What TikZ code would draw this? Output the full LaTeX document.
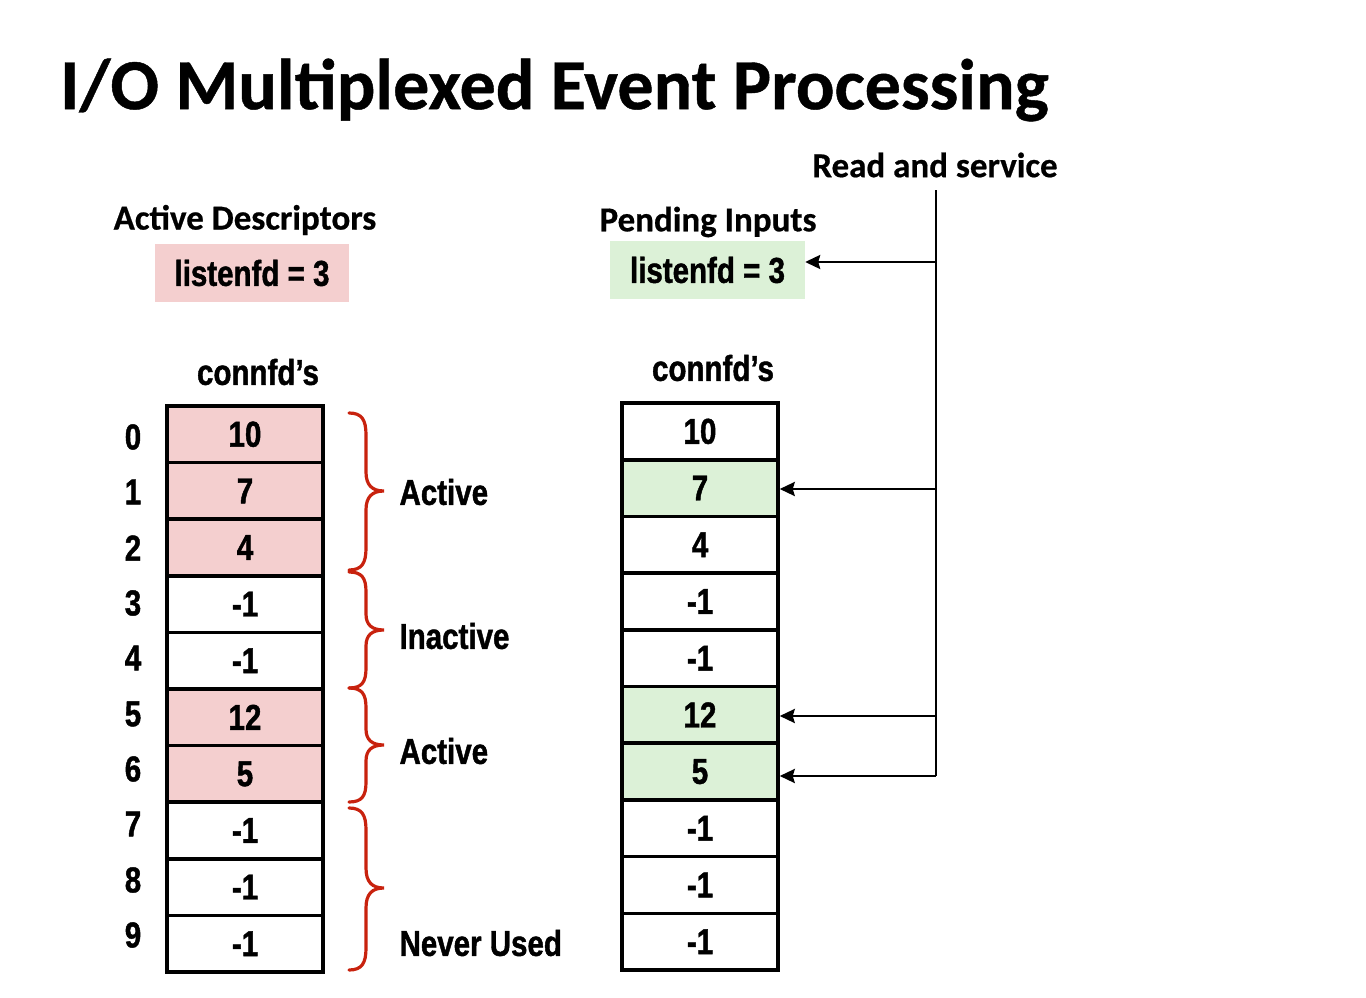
\documentclass[tikz,border=0pt]{standalone}
\usepackage{fontspec}
\usetikzlibrary{arrows.meta}
\newfontfamily\calf{Carlito}[BoldFeatures={FakeBold=0.6}]
\newfontfamily\narf{Liberation Sans}[FakeStretch=0.82, BoldFont={Liberation Sans Bold}, BoldFeatures={FakeStretch=0.82, FakeBold=1.2}]
\definecolor{pinkc}{HTML}{F4CFCF}
\definecolor{greenc}{HTML}{DCF1D7}
\definecolor{bracec}{HTML}{C8220E}
\begin{document}
\begin{tikzpicture}[x=1pt,y=-1pt,
  nf/.style={font=\narf\bfseries\fontsize{36}{40}\selectfont},
  cell/.style={nf, draw, line width=3.5pt, minimum width=156pt, minimum height=56.6pt, inner sep=0pt},
  pcell/.style={cell, fill=pinkc},
  gcell/.style={cell, fill=greenc},
  idx/.style={nf},
  lab/.style={nf, anchor=west},
  head/.style={font=\calf\bfseries\fontsize{35}{40}\selectfont},
  conn/.style={line width=2.4pt, -{Stealth[length=15pt,width=14pt,inset=2pt]}},
  bus/.style={line width=2.4pt},
  brc/.style={draw=bracec, line width=3.2pt, line cap=round}]
\useasboundingbox (0,0) rectangle (1366,998);

% title
\node[font=\calf\bfseries\fontsize{72}{80}\selectfont, anchor=west, inner sep=0pt] (title) at (60,90) {I/O Multiplexed Event Processing};

% left side headings
\node[head] (ad) at (245,220) {Active Descriptors};
\node[fill=pinkc, minimum width=194pt, minimum height=58pt, inner sep=0pt, nf] (al) at (252,273) {listenfd = 3};
\node[nf] (lc) at (258,372) {connfd’s};

% right side headings
\node[head] (pi) at (708,222) {Pending Inputs};
\node[fill=greenc, minimum width=195pt, minimum height=58pt, inner sep=0pt, nf] (pl) at (707.5,270) {listenfd = 3};
\node[nf] (rc) at (713,368) {connfd’s};
\node[head] (rs) at (935,165) {Read and service};

% left array
\node[pcell] (l0) at (245,434.3) {10};
\node[pcell] (l1) at (245,490.9) {7};
\node[pcell] (l2) at (245,547.5) {4};
\node[cell]  (l3) at (245,604.1) {-1};
\node[cell]  (l4) at (245,660.7) {-1};
\node[pcell] (l5) at (245,717.3) {12};
\node[pcell] (l6) at (245,773.9) {5};
\node[cell]  (l7) at (245,830.5) {-1};
\node[cell]  (l8) at (245,887.1) {-1};
\node[cell]  (l9) at (245,943.7) {-1};

% indices
\node[idx] (i0) at (133,437) {0};
\node[idx] (i1) at (133,492) {1};
\node[idx] (i2) at (133,548) {2};
\node[idx] (i3) at (133,603) {3};
\node[idx] (i4) at (133,658) {4};
\node[idx] (i5) at (133,714) {5};
\node[idx] (i6) at (133,769) {6};
\node[idx] (i7) at (133,824) {7};
\node[idx] (i8) at (133,880) {8};
\node[idx] (i9) at (133,935) {9};

% right array
\node[cell]  (r0) at (700,431.4) {10};
\node[gcell] (r1) at (700,488.1) {7};
\node[cell]  (r2) at (700,544.8) {4};
\node[cell]  (r3) at (700,601.5) {-1};
\node[cell]  (r4) at (700,658.2) {-1};
\node[gcell] (r5) at (700,714.9) {12};
\node[gcell] (r6) at (700,771.6) {5};
\node[cell]  (r7) at (700,828.3) {-1};
\node[cell]  (r8) at (700,885.0) {-1};
\node[cell]  (r9) at (700,941.7) {-1};

% braces
\draw[brc] (349,413) .. controls (362,413) and (366,420) .. (366,435) -- (366,472)
   .. controls (366,485) and (372,491) .. (384,491)
   .. controls (372,491) and (366,497) .. (366,510) -- (366,548)
   .. controls (366,563) and (362,570) .. (349,570);
\draw[brc] (349,572) .. controls (362,572) and (366,578) .. (366,592) -- (366,614)
   .. controls (366,625) and (372,630) .. (384,630)
   .. controls (372,630) and (366,635) .. (366,646) -- (366,668)
   .. controls (366,682) and (362,688) .. (349,688);
\draw[brc] (349,688) .. controls (362,688) and (366,694) .. (366,708) -- (366,729)
   .. controls (366,740) and (372,745) .. (384,745)
   .. controls (372,745) and (366,750) .. (366,761) -- (366,782)
   .. controls (366,796) and (362,802) .. (349,802);
\draw[brc] (349,808) .. controls (362,808) and (366,815) .. (366,830) -- (366,868)
   .. controls (366,882) and (372,888) .. (384,888)
   .. controls (372,888) and (366,894) .. (366,908) -- (366,948)
   .. controls (366,963) and (362,970) .. (349,970);

% brace labels
\node[lab] (t1) at (396,492) {Active};
\node[lab] (t2) at (396,636) {Inactive};
\node[lab] (t3) at (396,751) {Active};
\node[lab] (t4) at (396,943) {Never Used};

% bus
\coordinate (btop) at (936,190);
\coordinate (b0) at (936,262);
\coordinate (b1) at (936,489);
\coordinate (b5) at (936,716);
\coordinate (b6) at (936,776);
\draw[bus] (btop) -- (b6);
\draw[conn] (b0) -- (pl.east |- b0);
\draw[conn] (b1) -- (r1.east |- b1);
\draw[conn] (b5) -- (r5.east |- b5);
\draw[conn] (b6) -- (r6.east |- b6);
\end{tikzpicture}
\end{document}
